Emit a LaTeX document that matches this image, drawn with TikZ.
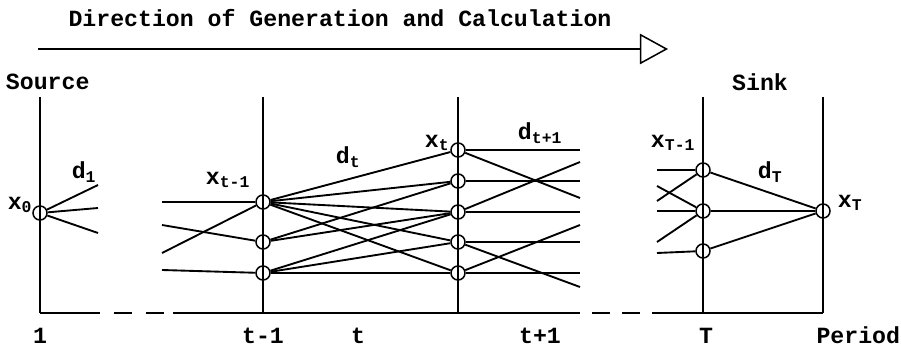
\documentclass[tikz,border=0pt]{standalone}
\usepackage{fontspec}
\setmonofont{Liberation Mono}
\usetikzlibrary{arrows.meta}
\newcommand{\sbs}[1]{\textsubscript{\fontsize{14}{14}\selectfont #1}}

\begin{document}
\begin{tikzpicture}[x=0.03cm, y=-0.03cm, line width=1.6pt,
  every node/.style={font=\ttfamily\bfseries\fontsize{19.8}{20}\selectfont, inner sep=0pt},
  stage/.style={circle, draw, line width=1.3pt, minimum size=0.42cm},
  period/.style={anchor=base}]
  \useasboundingbox (0,0) rectangle (901,347);
  \node (title) at (340,18) {Direction of Generation and Calculation};
  \coordinate (dirS) at (38,49);
  \coordinate (dirE) at (668,49);
  \draw[-{Triangle[open, length=24pt, width=26pt, line width=1.3pt]}] (dirS) -- (dirE);
  \node[anchor=west] (source) at (5,82) {Source};
  \node (sink) at (760,82) {Sink};
  \foreach \x in {40,263,458,703,823}
    \draw (\x,97) -- (\x,313);
  \draw (40,313) -- (100,313);
  \draw[dash pattern=on 0.54cm off 0.42cm, dash phase=0.54cm] (100,313) -- (173,313);
  \draw (173,313) -- (580,313);
  \draw[dash pattern=on 0.54cm off 0.36cm, dash phase=0.54cm] (580,313) -- (670,313);
  \draw (670,313) -- (823,313);
  \node[period] (p1) at (40,343) {1};
  \node[period] (ptm) at (263,343) {t-1};
  \node[period] (pt) at (358,343) {t};
  \node[period] (ptp) at (540,343) {t+1};
  \node[period] (pT) at (706,343) {T};
  \node[period, anchor=base east] (pname) at (901,343) {Period};

  \node[stage] (x0) at (40,213) {};
  \node[stage] (a1) at (263,202) {};
  \node[stage] (a2) at (263,242) {};
  \node[stage] (a3) at (263,273) {};
  \node[stage] (b1) at (458,150) {};
  \node[stage] (b2) at (458,181) {};
  \node[stage] (b3) at (458,212) {};
  \node[stage] (b4) at (458,242) {};
  \node[stage] (b5) at (458,273) {};
  \node[stage] (c1) at (703,170) {};
  \node[stage] (c2) at (703,211) {};
  \node[stage] (c3) at (703,251) {};
  \node[stage] (xT) at (823,211) {};

  \node (lx0) at (20,205) {x\sbs{0}};
  \node (ld1) at (84,172) {d\sbs{1}};
  \node (lxa) at (228,180) {x\sbs{t-1}};
  \node (ldt) at (348,157) {d\sbs{t}};
  \node (lxb) at (437,143) {x\sbs{t}};
  \node (ldb) at (540,133) {d\sbs{t+1}};
  \node (lxc) at (673,143) {x\sbs{T-1}};
  \node (ldT) at (770,172) {d\sbs{T}};
  \node (lxT) at (850,203) {x\sbs{T}};

  \coordinate (f1) at (98,185);
  \coordinate (f2) at (98,208);
  \coordinate (f3) at (98,233);
  \foreach \e in {f1,f2,f3}
    \draw (x0) -- (\e);

  \coordinate (l1) at (162,202);
  \coordinate (l2) at (162,225);
  \coordinate (l3) at (162,253);
  \coordinate (l4) at (162,270);
  \draw (l1) -- (a1);
  \draw (l2) -- (a2);
  \draw (l3) -- (a1);
  \draw (l4) -- (a3);

  \foreach \e in {b1,b2,b3,b4,b5}
    \draw (a1) -- (\e);
  \draw (a2) -- (b2);
  \draw (a2) -- (b3);
  \draw (a3) -- (b3);
  \draw (a3) -- (b4);
  \draw (a3) -- (b5);

  \coordinate (r1) at (580,150);
  \coordinate (r2) at (580,198);
  \coordinate (r3) at (580,181);
  \coordinate (r4) at (580,162);
  \coordinate (r5) at (580,212);
  \coordinate (r6) at (580,242);
  \coordinate (r7) at (580,287);
  \coordinate (r8) at (580,225);
  \coordinate (r9) at (580,273);
  \draw (b1) -- (r1);
  \draw (b1) -- (r2);
  \draw (b2) -- (r3);
  \draw (b3) -- (r4);
  \draw (b3) -- (r5);
  \draw (b4) -- (r6);
  \draw (b4) -- (r7);
  \draw (b5) -- (r8);
  \draw (b5) -- (r9);

  \coordinate (k1) at (657,170);
  \coordinate (k2) at (657,201);
  \coordinate (k3) at (657,186);
  \coordinate (k4) at (657,211);
  \coordinate (k5) at (657,242);
  \coordinate (k6) at (657,253);
  \draw (k1) -- (c1);
  \draw (k2) -- (c1);
  \draw (k3) -- (c2);
  \draw (k4) -- (c2);
  \draw (k5) -- (c2);
  \draw (k6) -- (c3);

  \foreach \e in {c1,c2,c3}
    \draw (\e) -- (xT);
\end{tikzpicture}
\end{document}
